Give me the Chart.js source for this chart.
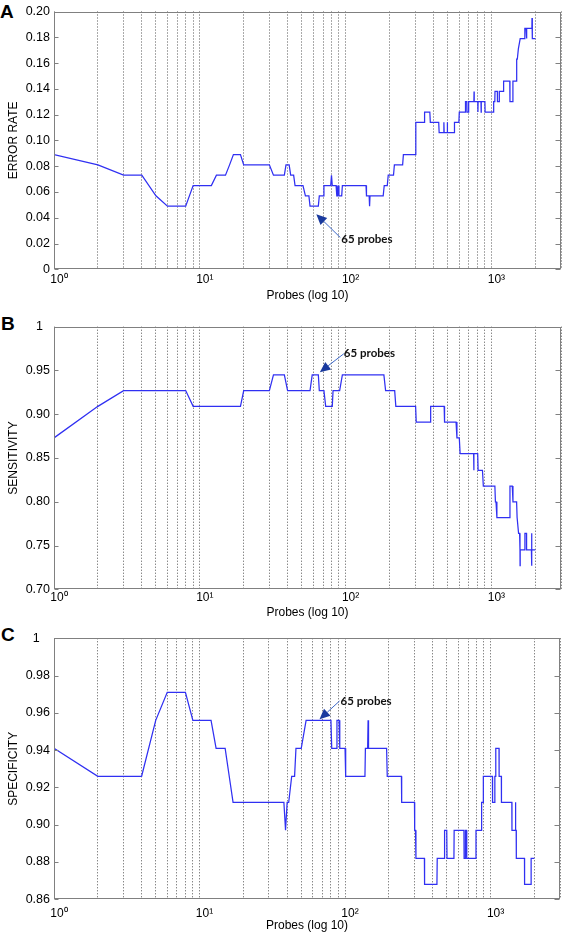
<!DOCTYPE html>
<html><head><meta charset="utf-8">
<script src="https://cdn.jsdelivr.net/npm/chart.js@4/dist/chart.umd.min.js"></script>
<style>
html,body{margin:0;padding:0;background:#fff;}
body{width:567px;height:934px;position:relative;overflow:hidden;font-family:"Liberation Sans",Arial,sans-serif;}
.panel{position:absolute;left:0;width:567px;}
.letter{position:absolute;font-weight:bold;font-size:19px;line-height:1;color:#000;font-family:"Liberation Sans",Arial,sans-serif;}
</style></head><body>
<div class="letter" style="left:0;top:1.5px">A</div>
<div class="letter" style="left:1px;top:314px">B</div>
<div class="letter" style="left:1px;top:624.5px">C</div>
<div class="panel" style="top:0;height:306px"><canvas id="cA" width="567" height="306"></canvas></div>
<div class="panel" style="top:310px;height:316px"><canvas id="cB" width="567" height="316"></canvas></div>
<div class="panel" style="top:620px;height:314px"><canvas id="cC" width="567" height="314"></canvas></div>
<script>
// ---------- DATA ----------
const probesA = [1,2,3,4,5,6,8,9,12,13,15,16,17,19,20,30,32,38,39,41,42,44,45,51,53,56,57,65,66,70,71,79,80,81,86,87,88,89,90,94,95,138,139,145,146,147,181,184,193,196,213,216,246,249,300,303,345,348,378,381,435,438,471,472,474,497,498,500,555,558,598,602,660,664,678,680,695,698,758,760,762,806,808,810,848,850,852,902,905,1033,1036,1055,1058,1098,1100,1130,1133,1208,1212,1336,1340,1400,1404,1485,1490,1505,1530,1545,1575,1690,1695,1728,1730,1750,1753,1895,1898,1905,1910,2000];
const errorRate = [0.089,0.081,0.073,0.073,0.057,0.049,0.049,0.065,0.065,0.073,0.073,0.081,0.089,0.089,0.081,0.081,0.073,0.073,0.081,0.081,0.073,0.073,0.065,0.065,0.057,0.057,0.049,0.049,0.057,0.057,0.065,0.065,0.073,0.065,0.065,0.057,0.057,0.065,0.057,0.057,0.065,0.065,0.057,0.057,0.049,0.057,0.057,0.065,0.065,0.073,0.073,0.081,0.081,0.089,0.089,0.114,0.114,0.122,0.122,0.114,0.114,0.106,0.106,0.114,0.106,0.106,0.114,0.106,0.106,0.114,0.114,0.122,0.122,0.130,0.130,0.122,0.122,0.130,0.130,0.138,0.130,0.130,0.122,0.130,0.130,0.122,0.130,0.130,0.122,0.122,0.130,0.130,0.138,0.138,0.130,0.130,0.138,0.138,0.146,0.146,0.130,0.130,0.146,0.146,0.163,0.163,0.171,0.171,0.179,0.179,0.187,0.187,0.179,0.179,0.187,0.187,0.195,0.195,0.179,0.179];

const probesB = [1,2,3,8,9,19,20,30,32,38,40,57,59,65,66,71,73,81,82,91,95,183,188,217,221,302,305,380,383,474,477,572,580,602,610,755,757,759,805,810,868,880,1056,1065,1075,1090,1320,1340,1390,1405,1488,1500,1520,1535,1560,1570,1572,1575,1695,1697,1740,1742,1880,1882,1886,1893,1897,2000];
const sensitivity = [0.873,0.909,0.927,0.927,0.909,0.909,0.927,0.927,0.945,0.945,0.927,0.927,0.945,0.945,0.927,0.927,0.909,0.909,0.927,0.927,0.945,0.945,0.927,0.927,0.909,0.909,0.891,0.891,0.909,0.909,0.891,0.891,0.873,0.873,0.855,0.855,0.836,0.855,0.855,0.836,0.836,0.818,0.818,0.800,0.800,0.782,0.782,0.818,0.818,0.800,0.800,0.782,0.782,0.764,0.764,0.745,0.727,0.745,0.745,0.764,0.764,0.745,0.745,0.764,0.745,0.727,0.745,0.745];

const probesC = [1,2,4,5,6,8,9,12,13,15,16,17,38,39,40,41,43,45,46,50,54,80,81,87,88,91,92,100,101,137,138,143,144,145,193,195,244,245,300,301,305,307,351,352,428,430,481,483,500,502,560,562,656,658,670,672,684,686,792,794,866,868,890,892,1030,1032,1068,1070,1084,1086,1143,1145,1186,1188,1400,1403,1483,1485,1487,1500,1503,1710,1713,1898,1900,2000];
const specificity = [0.941,0.926,0.926,0.956,0.971,0.971,0.956,0.956,0.941,0.941,0.926,0.912,0.912,0.897,0.912,0.912,0.926,0.926,0.941,0.941,0.956,0.956,0.941,0.941,0.956,0.956,0.941,0.941,0.926,0.926,0.941,0.941,0.956,0.941,0.941,0.926,0.926,0.912,0.912,0.897,0.897,0.882,0.882,0.868,0.868,0.882,0.882,0.897,0.897,0.882,0.882,0.897,0.897,0.882,0.882,0.897,0.897,0.882,0.882,0.897,0.897,0.912,0.912,0.926,0.926,0.912,0.912,0.926,0.926,0.941,0.941,0.926,0.926,0.912,0.912,0.897,0.897,0.912,0.897,0.897,0.882,0.882,0.868,0.868,0.882,0.882];

// x grid positions and tick labels
const xGridTicks = [1,2,3,4,5,6,7,8,9,10,20,30,40,50,60,70,80,90,100,200,300,400,500,600,700,800,900,1000,2000,3000];
const xLabelValues = [1,10,100,1000];
const xLabelTexts = ['10\u2070','10\u00b9','10\u00b2','10\u00b3'];

const yTicksA = [0,0.02,0.04,0.06,0.08,0.10,0.12,0.14,0.16,0.18,0.20];
const yLabelsA = ['0','0.02','0.04','0.06','0.08','0.10','0.12','0.14','0.16','0.18','0.20'];
const yTicksB = [0.70,0.75,0.80,0.85,0.90,0.95,1];
const yLabelsB = ['0.70','0.75','0.80','0.85','0.90','0.95','1  '];
const yTicksC = [0.86,0.88,0.90,0.92,0.94,0.96,0.98,1];
const yLabelsC = ['0.86','0.88','0.90','0.92','0.94','0.96','0.98','1   '];

const annotationProbes = 65;
const annotationText = '65 probes';

// ---------- DRAWING ----------
const FONT = '"Liberation Sans", Arial, sans-serif';
const BOX = '#808080';

const framePlugin = {
  id: 'frame',
  afterDraw(chart, args, opts) {
    const {ctx, chartArea: a, scales: {x, y}} = chart;
    ctx.save();
    ctx.strokeStyle = BOX;
    ctx.lineWidth = 1;
    const L = Math.round(a.left) + 0.5, R = Math.round(a.right) - 0.5;
    const T = Math.round(a.top) + 0.5, B = Math.round(a.bottom) - 0.5;
    ctx.strokeRect(L, T, R - L, B - T);
    ctx.beginPath();
    y.ticks.forEach(t => {
      const py = Math.round(y.getPixelForValue(t.value)) + 0.5;
      ctx.moveTo(L, py); ctx.lineTo(L + 4, py);
      ctx.moveTo(R, py); ctx.lineTo(R - 5, py);
    });
    ctx.stroke();
    // annotation arrow + text
    const n = opts.note;
    if (n) {
      const tipX = x.getPixelForValue(n.probes) + n.tipDx;
      const tipY = y.getPixelForValue(n.value) + n.tipDy;
      const tailX = tipX + n.tailDx, tailY = tipY + n.tailDy;
      const ang = Math.atan2(tipY - tailY, tipX - tailX);
      const hl = 10.5, hw = 4.8;
      const bx = tipX - hl * Math.cos(ang), by = tipY - hl * Math.sin(ang);
      ctx.strokeStyle = '#3d68c8';
      ctx.lineWidth = 1;
      ctx.beginPath(); ctx.moveTo(tailX, tailY); ctx.lineTo(bx, by); ctx.stroke();
      ctx.fillStyle = '#1a3a9e';
      ctx.beginPath();
      ctx.moveTo(tipX, tipY);
      ctx.lineTo(bx + hw * Math.sin(ang), by - hw * Math.cos(ang));
      ctx.lineTo(bx - hw * Math.sin(ang), by + hw * Math.cos(ang));
      ctx.closePath(); ctx.fill();
      ctx.fillStyle = '#111';
      ctx.font = 'bold 11.5px Lato, "Liberation Sans", sans-serif';
      ctx.textAlign = 'left'; ctx.textBaseline = 'middle';
      ctx.fillText(n.text, tailX + n.textDx, tailY + n.textDy);
    }
    ctx.restore();
  }
};

function makeChart(id, probes, values, c) {
  const pts = probes.map((p, i) => ({x: p, y: values[i]}));
  return new Chart(document.getElementById(id), {
    type: 'line',
    data: { datasets: [{ data: pts, borderColor: '#3030f2', borderWidth: 1.25, pointRadius: 0, tension: 0, fill: false }] },
    plugins: [framePlugin],
    options: {
      responsive: false, animation: false, devicePixelRatio: 1,
      layout: { padding: { top: c.padTop, right: c.padRight, left: 0, bottom: 0 } },
      plugins: { legend: { display: false }, tooltip: { enabled: false }, frame: { note: c.note } },
      scales: {
        x: {
          type: 'logarithmic', min: 1, max: 3000,
          afterBuildTicks: s => { s.ticks = xGridTicks.map(v => ({value: v})); },
          afterFit: s => { s.height = c.xHeight; },
          ticks: {
            autoSkip: false, maxRotation: 0, minRotation: 0, padding: c.xLabelPad, labelOffset: 5,
            color: '#000', font: { family: FONT, size: 12 },
            callback: v => { const i = xLabelValues.indexOf(v); return i >= 0 ? xLabelTexts[i] : ''; }
          },
          grid: { color: '#555', lineWidth: 1, drawTicks: false },
          border: { display: false, dash: [1, 2] },
          title: { display: true, text: 'Probes (log 10)', color: '#000', font: { family: FONT, size: 12 }, padding: { top: 0, bottom: c.xTitlePad } }
        },
        y: {
          type: 'linear', min: c.yTicks[0], max: c.yTicks[c.yTicks.length - 1],
          afterBuildTicks: s => { s.ticks = c.yTicks.map(v => ({value: v})); },
          afterFit: s => { s.width = 54; },
          ticks: { autoSkip: false, padding: 4, color: '#000', font: { family: FONT, size: 12.5 }, callback: (v, i) => c.yLabels[i] },
          grid: { display: false, drawTicks: false },
          border: { display: false },
          title: { display: true, text: c.yTitle, color: '#000', font: { family: FONT, size: 12 }, padding: { top: 6, bottom: 0 } }
        }
      }
    }
  });
}

makeChart('cA', probesA, errorRate, {
  padTop: 6.7, padRight: 6, xHeight: 36.7, xLabelPad: 2.8, xTitlePad: 2.8,
  yTicks: yTicksA, yLabels: yLabelsA, yTitle: 'ERROR RATE',
  note: { probes: annotationProbes, value: errorRate[probesA.indexOf(annotationProbes)], tipDx: -2, tipDy: 8, tailDx: 24, tailDy: 23.4, textDx: 1, textDy: 1.5, text: annotationText }
});
makeChart('cB', probesB, sensitivity, {
  padTop: 16.7, padRight: 6, xHeight: 36.7, xLabelPad: 1.5, xTitlePad: 5.8,
  yTicks: yTicksB, yLabels: yLabelsB, yTitle: 'SENSITIVITY',
  note: { probes: annotationProbes, value: sensitivity[probesB.indexOf(annotationProbes)], tipDx: 1.5, tipDy: -2.7, tailDx: 24, tailDy: -18.4, textDx: 0, textDy: 0, text: annotationText }
});
makeChart('cC', probesC, specificity, {
  padTop: 18.3, padRight: 3, xHeight: 34.7, xLabelPad: 7, xTitlePad: 0.8,
  yTicks: yTicksC, yLabels: yLabelsC, yTitle: 'SPECIFICITY',
  note: { probes: annotationProbes, value: 0.956, tipDx: 1.7, tipDy: -1, tailDx: 20, tailDy: -18.3, textDx: 1, textDy: 0, text: annotationText }
});
</script>
</body></html>
